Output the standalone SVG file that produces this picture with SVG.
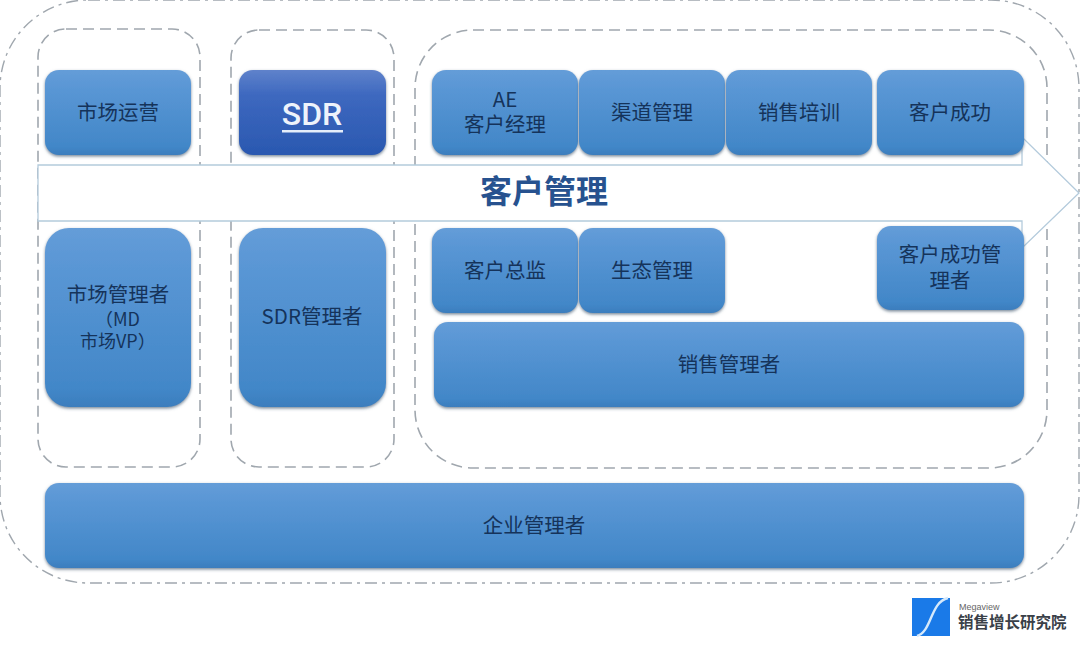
<svg xmlns="http://www.w3.org/2000/svg" width="1080" height="652" viewBox="0 0 1080 652">
<defs>
<linearGradient id="b" x1="0" y1="0" x2="0" y2="1"><stop offset="0" stop-color="#659dd8"/><stop offset="0.15" stop-color="#5c98d6"/><stop offset="0.9" stop-color="#4287c8"/><stop offset="1" stop-color="#3b7dbd"/></linearGradient>
<linearGradient id="d" x1="0" y1="0" x2="0" y2="1"><stop offset="0" stop-color="#5f82cb"/><stop offset="0.3" stop-color="#3d68bf"/><stop offset="1" stop-color="#2a58b0"/></linearGradient>
<filter id="s" x="-10%" y="-10%" width="120%" height="125%"><feDropShadow dx="0" dy="1.5" stdDeviation="1.5" flood-color="#4d6277" flood-opacity="0.75"/></filter>
</defs>
<style>
text{font-family:"Noto Sans CJK SC","Noto Sans",sans-serif;font-size:20.5px;fill:#15335a;text-anchor:middle}
.n{fill:url(#b);filter:url(#s)}
.g{fill:none;stroke:#a0a7ae;stroke-width:1.6;stroke-dasharray:11 6}
.o{fill:none;stroke:#a0a7ae;stroke-width:1.4;stroke-dasharray:12 5 3 5}
.m{font-size:18px;text-anchor:start}
</style>
<rect width="1080" height="652" fill="#fff"/>
<g id="containers">
<rect class="o" x="0" y="0" width="1079" height="583" rx="88"/>
<rect class="g" x="38" y="29" width="162" height="438" rx="28"/>
<rect class="g" x="231" y="30" width="163" height="437" rx="28"/>
<rect class="g" x="415" y="30" width="632" height="438" rx="58"/>
</g>
<g id="connectors">
<path id="arrow" d="M38 165H1022V137L1079 193L1022 248V221H38Z" fill="#fff" stroke="#b4cbdc" stroke-width="1.3"/>
<text x="544" y="203" style="font-size:32px;font-weight:700;fill:#27528f">客户管理</text>
</g>
<g id="n1"><rect class="n" x="45" y="70" width="146" height="85" rx="14"/><text x="118" y="120">市场运营</text></g>
<g id="n2"><rect x="239" y="70" width="147" height="85" rx="14" fill="url(#d)" filter="url(#s)"/><text x="312" y="125" style="font-size:32px;font-family:'Roboto','Noto Sans',sans-serif;fill:#eef3fb;font-weight:500">SDR</text><rect x="282" y="130" width="61" height="2.5" fill="#e6eefa"/></g>
<g id="n3"><rect class="n" x="432" y="70" width="146" height="85" rx="14"/><text x="505" y="107">AE</text><text x="505" y="132">客户经理</text></g>
<g id="n4"><rect class="n" x="579" y="70" width="146" height="85" rx="14"/><text x="652" y="120">渠道管理</text></g>
<g id="n5"><rect class="n" x="726" y="70" width="146" height="85" rx="14"/><text x="799" y="120">销售培训</text></g>
<g id="n6"><rect class="n" x="877" y="70" width="147" height="85" rx="14"/><text x="950" y="120">客户成功</text></g>
<g id="n7"><rect class="n" x="45" y="228" width="146" height="179" rx="24"/><text x="118" y="302">市场管理者</text><text class="m" x="95" y="326">（MD</text><text class="m" x="80" y="348">市场VP）</text></g>
<g id="n8"><rect class="n" x="239" y="228" width="147" height="179" rx="24"/><text x="312" y="324">SDR管理者</text></g>
<g id="n9"><rect class="n" x="432" y="228" width="146" height="85" rx="14"/><text x="505" y="278">客户总监</text></g>
<g id="n10"><rect class="n" x="579" y="228" width="146" height="85" rx="14"/><text x="652" y="278">生态管理</text></g>
<g id="n11"><rect class="n" x="877" y="226" width="147" height="84" rx="14"/><text x="950" y="262">客户成功管</text><text x="950" y="288">理者</text></g>
<g id="n12"><rect class="n" x="434" y="322" width="590" height="85" rx="14"/><text x="729" y="372">销售管理者</text></g>
<g id="n13"><rect class="n" x="45" y="483" width="979" height="85" rx="14"/><text x="534" y="533">企业管理者</text></g>
<g id="logo">
<rect x="912" y="598" width="38" height="38" fill="#1a7ae8"/>
<path d="M917 636C932 632 930 602 948 598" fill="none" stroke="#d5e9fb" stroke-width="2.4"/>
<text x="959" y="610" style="font-size:9px;text-anchor:start;fill:#666;font-family:'Liberation Sans',sans-serif">Megaview</text>
<text x="958" y="628" style="font-size:15.5px;font-weight:700;text-anchor:start;fill:#3a4048">销售增长研究院</text>
</g>
</svg>
